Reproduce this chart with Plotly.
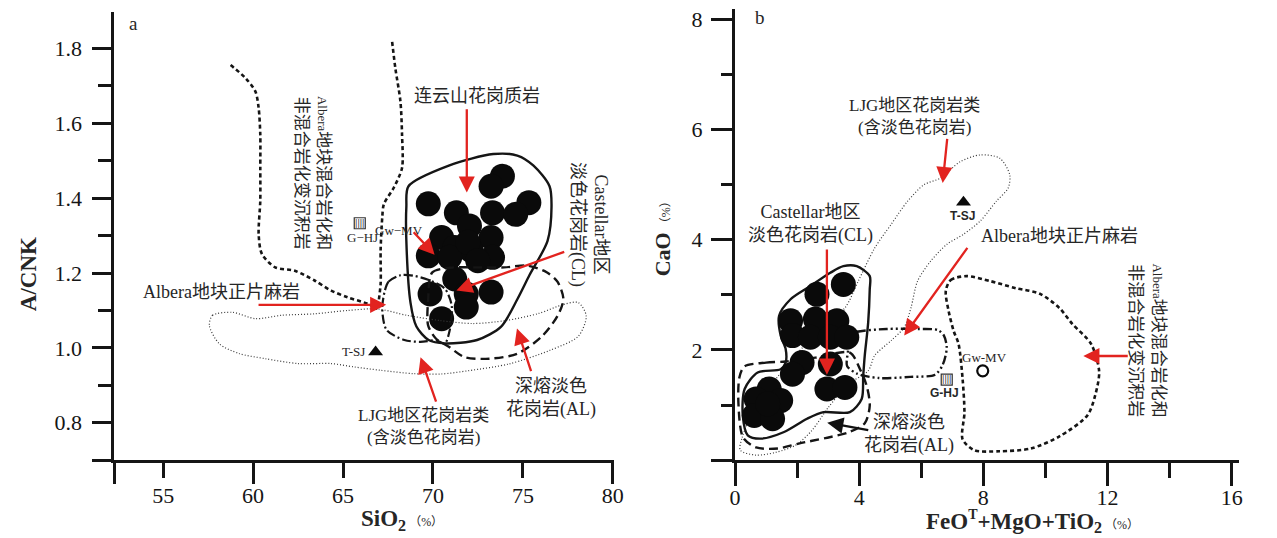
import plotly.graph_objects as go

W, H = 1277, 538
SERIF = "Liberation Serif, Noto Sans CJK SC, serif"
SANS = "Liberation Sans, Noto Sans CJK SC, sans-serif"
INK = "#151515"
TXT = "#262626"
RED = "#e2231f"

# ---------------- panel a : SiO2 vs A/CNK ----------------
lys_sio2 = [73.86, 73.23, 69.74, 71.30, 73.31, 75.33, 74.60, 72.03, 70.48, 73.23, 69.74,
            73.31, 71.21, 72.13, 70.93, 71.94, 72.49, 71.21, 69.84, 71.85, 73.23, 71.85, 70.48]
lys_acnk = [1.459, 1.432, 1.385, 1.361, 1.361, 1.388, 1.357, 1.326, 1.295, 1.295, 1.246,
            1.242, 1.268, 1.260, 1.242, 1.282, 1.233, 1.184, 1.144, 1.144, 1.149, 1.109, 1.078]
tsj_a_sio2, tsj_a_acnk = [66.81], [0.989]
ghj_a_sio2, ghj_a_acnk = [65.93], [1.333]

# Lianyunshan granitoid field
lys_field_sio2 = [68.64, 70.88, 73.35, 74.69, 75.59, 76.48, 76.59, 76.37, 75.36, 74.69, 73.79,
                  72.45, 70.65, 69.76, 69.08, 68.75, 68.52, 68.52, 68.64]
lys_field_acnk = [1.432, 1.487, 1.518, 1.514, 1.487, 1.432, 1.377, 1.286, 1.194, 1.130, 1.057,
                  1.021, 1.012, 1.021, 1.057, 1.121, 1.286, 1.377, 1.432]
# anatectic leucogranite (AL)
al_a_sio2 = [69.73, 69.95, 70.93, 72.58, 73.96, 75.22, 76.32, 76.92, 77.25, 76.92, 76.04,
             74.67, 73.13, 71.76, 70.88, 70.16, 69.73, 69.73]
al_a_acnk = [1.127, 1.201, 1.214, 1.215, 1.215, 1.220, 1.202, 1.177, 1.130, 1.085, 1.030,
             0.984, 0.971, 0.975, 1.003, 1.025, 1.060, 1.127]
# Albera orthogneiss
og_a_sio2 = [67.31, 67.53, 68.19, 68.90, 69.73, 70.66, 71.04, 70.93, 70.66, 70.16, 69.29,
             68.41, 67.42, 67.18, 67.31]
og_a_acnk = [1.150, 1.177, 1.194, 1.193, 1.182, 1.158, 1.113, 1.047, 1.012, 1.020, 1.016,
             1.021, 1.048, 1.103, 1.150]
# LJG granitoids
ljg_a_sio2 = [57.57, 57.75, 58.85, 60.13, 61.59, 63.42, 65.26, 66.91, 68.55, 70.38, 72.20,
              74.05, 75.88, 77.25, 78.08, 78.52, 78.08, 76.48, 74.23, 71.98, 70.44, 68.92,
              67.09, 65.62, 64.34, 62.51, 60.68, 59.21, 58.12, 57.57]
ljg_a_acnk = [1.060, 1.087, 1.095, 1.078, 1.087, 1.091, 1.100, 1.104, 1.087, 1.073, 1.065,
              1.073, 1.092, 1.116, 1.121, 1.085, 1.031, 0.993, 0.957, 0.939, 0.930, 0.931,
              0.940, 0.949, 0.958, 0.958, 0.971, 0.985, 1.011, 1.060]
# Albera migmatised / non-migmatised metasediments (two bounding curves)
mig_l_sio2 = [58.75, 59.58, 60.13, 60.31, 60.40, 60.40, 60.40, 60.31, 60.49, 61.23, 62.32,
              63.42, 64.34, 65.26, 66.36, 66.92]
mig_l_acnk = [1.756, 1.721, 1.685, 1.641, 1.570, 1.481, 1.393, 1.304, 1.251, 1.215, 1.206,
              1.180, 1.153, 1.135, 1.118, 1.104]
mig_r_sio2 = [67.73, 67.91, 68.19, 68.28, 68.28, 67.82, 67.27, 67.18, 67.09, 67.09, 66.92]
mig_r_acnk = [1.818, 1.747, 1.659, 1.570, 1.481, 1.428, 1.384, 1.348, 1.261, 1.171, 1.104]

sio2_ticks = [55, 60, 65, 70, 75, 80]
acnk_ticks = [0.7, 0.8, 1.0, 1.2, 1.4, 1.6, 1.8]
acnk_labels = ["", "0.8", "1.0", "1.2", "1.4", "1.6", "1.8"]
acnk_minor = [0.9, 1.1, 1.3, 1.5, 1.7]

# ---------------- panel b : FeOT+MgO+TiO2 vs CaO ----------------
lys_fmt = [3.49, 2.64, 1.79, 2.59, 3.28, 1.85, 2.43, 3.07, 3.60, 2.16, 1.85, 3.07, 2.96, 3.54,
           1.10, 0.68, 1.47, 0.62, 1.21, 1.05]
lys_cao = [3.19, 3.01, 2.53, 2.56, 2.53, 2.26, 2.23, 2.23, 2.23, 1.77, 1.56, 1.745, 1.29, 1.32,
           1.29, 1.11, 1.08, 0.81, 0.75, 1.02]
tsj_b_fmt, tsj_b_cao = [7.36], [4.68]
gwmv_b_fmt, gwmv_b_cao = [7.98], [1.62]
ghj_b_fmt, ghj_b_cao = [6.82], [1.46]

cl_b_fmt = [3.92, 4.34, 4.34, 4.29, 4.18, 4.13, 4.08, 3.70, 2.85, 2.32, 1.58, 0.84, 0.41, 0.25,
            0.31, 0.73, 1.47, 1.63, 1.63, 1.47, 1.42, 1.79, 2.43, 3.07, 3.49, 3.92]
cl_b_cao = [3.52, 3.34, 3.10, 2.50, 1.90, 1.53, 1.11, 0.87, 0.87, 0.75, 0.51, 0.39, 0.45, 0.81,
            1.29, 1.59, 1.65, 1.77, 2.02, 2.26, 2.62, 2.92, 3.16, 3.40, 3.52, 3.52]
al_b_fmt = [0.30, 1.00, 1.63, 2.59, 3.70, 4.05, 4.24, 4.34, 4.18, 3.64, 2.91, 2.05, 1.38, 0.68,
            0.26, 0.11, 0.14, 0.30]
al_b_cao = [1.70, 1.77, 1.79, 1.86, 1.95, 1.62, 1.35, 0.99, 0.67, 0.50, 0.40, 0.30, 0.21, 0.23,
            0.41, 1.03, 1.50, 1.70]
ljg_b_fmt = [0.17, 0.23, 0.52, 1.15, 1.95, 2.75, 3.55, 3.97, 4.50, 5.03, 5.56, 6.09, 6.62, 7.26,
             7.90, 8.53, 8.85, 8.80, 8.42, 7.90, 7.36, 6.83, 6.30, 5.88, 5.67, 5.45, 5.03, 4.50,
             4.29, 3.65, 3.01, 2.48, 1.95, 1.31, 0.68, 0.17]
ljg_b_cao = [0.18, 0.41, 0.81, 1.35, 1.90, 2.38, 2.77, 3.25, 3.85, 4.28, 4.70, 5.00, 5.12, 5.42,
             5.54, 5.48, 5.18, 4.94, 4.70, 4.34, 4.10, 3.92, 3.61, 3.25, 2.77, 2.41, 2.17, 1.90,
             1.62, 1.38, 0.96, 0.54, 0.27, 0.14, 0.09, 0.18]
og_b_fmt = [3.64, 3.93, 4.88, 5.90, 6.54, 6.73, 6.82, 6.69, 6.44, 5.64, 4.63, 3.93, 3.61, 3.64, 3.64]
og_b_cao = [2.26, 2.33, 2.38, 2.38, 2.36, 2.26, 2.04, 1.73, 1.55, 1.51, 1.49, 1.57, 1.71, 1.99, 2.26]
mig_b_fmt = [6.79, 6.95, 7.46, 8.22, 9.05, 9.82, 10.45, 10.87, 11.47, 11.73, 11.60, 11.35, 10.45,
             9.53, 8.51, 7.71, 7.33, 7.39, 7.33, 7.20, 7.04, 6.88, 6.79]
mig_b_cao = [3.07, 3.27, 3.34, 3.25, 3.12, 3.02, 2.76, 2.47, 2.11, 1.61, 1.17, 0.81, 0.43, 0.21,
             0.16, 0.18, 0.38, 0.86, 1.48, 2.11, 2.35, 2.71, 3.07]

fmt_ticks = [0, 4, 8, 12, 16]
fmt_minor = [2, 6, 10, 14]
cao_ticks = [0, 2, 4, 6, 8]
cao_labels = ["", "2", "4", "6", "8"]
cao_minor = [1, 3, 5, 7]

fig = go.Figure()


def outline(x, y, xa, ya, dash, width=2.4, color=INK):
    fig.add_trace(go.Scatter(x=x, y=y, xaxis=xa, yaxis=ya, mode="lines",
                             line=dict(color=color, width=width, dash=dash, shape="spline",
                                       smoothing=0.8),
                             hoverinfo="skip", showlegend=False))


def hatched_box(x, y, xa, ya):
    # small ruled square used for the G-HJ reference composition
    fig.add_trace(go.Scatter(x=x, y=y, xaxis=xa, yaxis=ya, mode="markers+text",
                             marker=dict(symbol="square-open", size=11, color="#333",
                                         line=dict(width=1.2)),
                             text=["||||"], textposition="middle center",
                             textfont=dict(family="Liberation Sans", size=9, color="#333"),
                             cliponaxis=False, hoverinfo="skip", showlegend=False))


# panel a fields (drawn on the overlay axis x3 sharing panel a's range)
outline(ljg_a_sio2, ljg_a_acnk, "x3", "y", "1px,2px", 1.2, "#3a3a3a")
outline(og_a_sio2, og_a_acnk, "x3", "y", "9px,3px,2px,3px", 2.2)
outline(al_a_sio2, al_a_acnk, "x3", "y", "9px,5px", 2.4)
outline(mig_l_sio2, mig_l_acnk, "x3", "y", "4px,3px", 2.6)
outline(mig_r_sio2, mig_r_acnk, "x3", "y", "4px,3px", 2.6)
outline(lys_field_sio2, lys_field_acnk, "x3", "y", "solid", 2.4)

fig.add_trace(go.Scatter(x=lys_sio2, y=lys_acnk, xaxis="x", yaxis="y", mode="markers",
                         marker=dict(size=25, color="#0a0a0a", line=dict(width=0)),
                         cliponaxis=False, hoverinfo="skip", showlegend=False))
fig.add_trace(go.Scatter(x=tsj_a_sio2, y=tsj_a_acnk, xaxis="x", yaxis="y", mode="markers",
                         marker=dict(symbol="triangle-up", size=13, color="#0a0a0a"),
                         hoverinfo="skip", showlegend=False))
hatched_box(ghj_a_sio2, ghj_a_acnk, "x", "y")

# panel b fields
outline(ljg_b_fmt, ljg_b_cao, "x2", "y2", "1px,2px", 1.2, "#3a3a3a")
outline(al_b_fmt, al_b_cao, "x2", "y2", "9px,5px", 2.4)
outline(og_b_fmt, og_b_cao, "x2", "y2", "9px,3px,2px,3px,2px,3px", 2.4)
outline(mig_b_fmt, mig_b_cao, "x2", "y2", "4px,3px", 2.6)
outline(cl_b_fmt, cl_b_cao, "x2", "y2", "solid", 2.4)

fig.add_trace(go.Scatter(x=lys_fmt, y=lys_cao, xaxis="x2", yaxis="y2", mode="markers",
                         marker=dict(size=25, color="#0a0a0a", line=dict(width=0)),
                         cliponaxis=False, hoverinfo="skip", showlegend=False))
fig.add_trace(go.Scatter(x=tsj_b_fmt, y=tsj_b_cao, xaxis="x2", yaxis="y2", mode="markers",
                         marker=dict(symbol="triangle-up", size=13, color="#0a0a0a"),
                         hoverinfo="skip", showlegend=False))
fig.add_trace(go.Scatter(x=gwmv_b_fmt, y=gwmv_b_cao, xaxis="x2", yaxis="y2", mode="markers",
                         marker=dict(symbol="circle-open", size=11, color="#0a0a0a",
                                     line=dict(width=2.2)),
                         hoverinfo="skip", showlegend=False))
hatched_box(ghj_b_fmt, ghj_b_cao, "x2", "y2")

ann = []


def label(text, x, y, xref, yref, size=18, angle=0, family=SERIF, color=TXT, align="center",
          xanchor="center"):
    ann.append(dict(text=text, x=x, y=y, xref=xref, yref=yref, showarrow=False,
                    textangle=angle, align=align, xanchor=xanchor, yanchor="middle",
                    font=dict(family=family, size=size, color=color)))


def arrow(x0, y0, x1, y1, xref, yref, color=RED):
    ann.append(dict(text="", x=x1, y=y1, ax=x0, ay=y0, xref=xref, yref=yref,
                    axref=xref, ayref=yref, showarrow=True, arrowhead=2, arrowsize=1.4,
                    arrowwidth=2.3, arrowcolor=color, standoff=0, startstandoff=0))


# panel a text
label("a", 53.35, 1.866, "x", "y", 19)
label("连云山花岗质岩", 72.42, 1.672, "x", "y", 18)
label("<span style='font-size:13px'>Albera</span>地块混合岩化和<br>非混合岩化变沉积岩",
      63.34, 1.467, "x", "y", 17, angle=90)
label("Gw−MV", 68.13, 1.315, "x", "y", 13)
label("G−HJ", 66.10, 1.295, "x", "y", 13)
label("T-SJ", 66.32, 0.989, "x", "y", 13, xanchor="right")
label("Albera地块正片麻岩", 58.24, 1.148, "x", "y", 18)
label("Castellar地区<br>淡色花岗岩(CL)", 78.68, 1.331, "x", "y", 18, angle=90)
label("深熔淡色<br>花岗岩(AL)", 76.54, 0.867, "x", "y", 18)
label("LJG地区花岗岩类<br>(含淡色花岗岩)", 69.45, 0.790, "x", "y", 17)

arrow(71.88, 1.642, 71.88, 1.415, "x", "y")
arrow(68.85, 1.313, 70.09, 1.249, "x", "y")
arrow(77.38, 1.258, 71.30, 1.153, "x", "y")
arrow(60.22, 1.115, 67.40, 1.115, "x", "y")
arrow(70.20, 0.852, 69.31, 0.975, "x", "y")
arrow(75.48, 0.934, 74.67, 1.052, "x", "y")

# panel b text
label("b", 0.81, 8.04, "x2", "y2", 19)
label("LJG地区花岗岩类<br>(含淡色花岗岩)", 5.77, 6.23, "x2", "y2", 17)
label("<b>T-SJ</b>", 7.33, 4.44, "x2", "y2", 12, family=SANS)
label("Castellar地区<br>淡色花岗岩(CL)", 2.43, 4.28, "x2", "y2", 18)
label("Albera地块正片麻岩", 10.44, 4.07, "x2", "y2", 18)
label("<span style='font-size:13px'>Albera</span>地块混合岩化和<br>非混合岩化变沉积岩",
      13.29, 2.18, "x2", "y2", 17, angle=90)
label("Gw-MV", 8.05, 1.86, "x2", "y2", 13)
label("<b>G-HJ</b>", 6.75, 1.21, "x2", "y2", 12, family=SANS)
label("深熔淡色<br>花岗岩(AL)", 5.61, 0.48, "x2", "y2", 18)

arrow(6.84, 5.86, 6.69, 5.03, "x2", "y2")
arrow(2.96, 3.85, 2.96, 1.55, "x2", "y2")
arrow(7.52, 3.88, 5.45, 2.26, "x2", "y2")
arrow(12.70, 1.89, 11.22, 1.89, "x2", "y2")
arrow(4.34, 0.54, 2.97, 0.68, "x2", "y2", color="#111")

# axis titles
PCT = "<span style='font-size:12px;font-weight:normal'> （%）</span>"
label("<b>A/CNK</b>", 24.5 / W, 1 - 273 / H, "paper", "paper", 23, angle=-90)
label("<b>SiO<sub>2</sub></b>" + PCT, 402 / W, 1 - 520 / H, "paper", "paper", 23)
label("<b>CaO</b>" + PCT, 665 / W, 1 - 235 / H, "paper", "paper", 22, angle=-90)
label("<b>FeO<sup><span style='font-size:14px'>T</span></sup>+MgO+TiO<sub>2</sub></b>" + PCT,
      1040 / W, 1 - 521 / H, "paper", "paper", 23)

tickfont = dict(family=SERIF, size=22, color=INK)
axis_common = dict(showgrid=False, zeroline=False, showline=True, linewidth=3,
                   linecolor=INK, ticks="outside", tickwidth=3, tickcolor=INK,
                   tickfont=tickfont, fixedrange=True)

ydom = [1 - 459.8 / H, 1 - 10.3 / H]
fig.update_layout(
    width=W, height=H, margin=dict(l=0, r=0, t=0, b=0),
    paper_bgcolor="white", plot_bgcolor="white", showlegend=False,
    xaxis=dict(domain=[110.7 / W, 616 / W], range=[52.291, 80.05], anchor="y",
               tickmode="array", tickvals=sio2_ticks, ticklen=15,
               ticklabelstandoff=-1, **axis_common),
    xaxis3=dict(overlaying="x", anchor="y", range=[52.291, 80.05], tickmode="array",
                tickvals=[52.291, 60, 70, 80], ticks="outside", ticklen=23, tickwidth=3,
                tickcolor=INK, showticklabels=False, showline=False, showgrid=False,
                zeroline=False, fixedrange=True),
    yaxis=dict(domain=ydom, range=[0.7, 1.897], anchor="x", tickmode="array",
               tickvals=acnk_ticks, ticktext=acnk_labels, ticklen=19,
               ticklabelstandoff=6,
               minor=dict(tickmode="array", tickvals=acnk_minor, ticklen=13,
                          tickwidth=3, tickcolor=INK, ticks="outside"),
               **axis_common),
    xaxis2=dict(domain=[738.7 / W, 1249 / W], range=[0, 16.246], anchor="y2",
                tickmode="array", tickvals=fmt_ticks, ticklen=23, ticklabelstandoff=-7,
                minor=dict(tickmode="array", tickvals=fmt_minor, ticklen=15,
                           tickwidth=3, tickcolor=INK, ticks="outside"),
                **axis_common),
    yaxis2=dict(domain=[1 - 459.8 / H, 1 - 7 / H], range=[0, 8.19], anchor="x2",
                tickmode="array", tickvals=cao_ticks, ticktext=cao_labels, ticklen=21,
                ticklabelstandoff=4,
                minor=dict(tickmode="array", tickvals=cao_minor, ticklen=11,
                           tickwidth=3, tickcolor=INK, ticks="outside"),
                **axis_common),
    annotations=ann,
)

fig.write_html("out.html")
